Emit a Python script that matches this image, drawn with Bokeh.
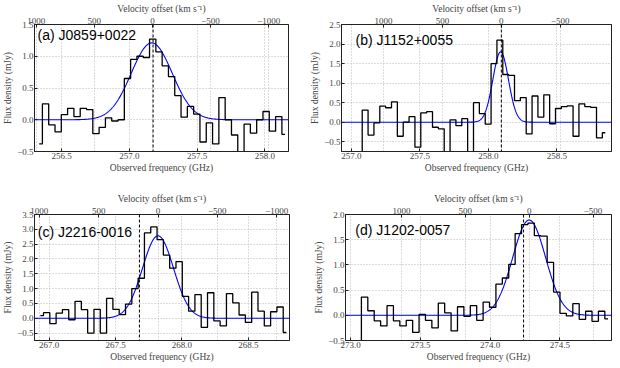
import numpy as np
from bokeh.plotting import figure
from bokeh.models import Range1d, LinearAxis, FixedTicker, Grid, Span, Label
from bokeh.layouts import column, row
from bokeh.embed import file_html
from bokeh.resources import INLINE

C_KMS = 299792.458

# ---------------- data ----------------
panel_labels = ["(a) J0859+0022", "(b) J1152+0055", "(c) J2216-0016", "(d) J1202-0057"]

a_flux = [-0.38, 0.25, -0.08, -0.19, 0.08, 0.18, 0.05, 0.18, 0.16, -0.22, -0.12, 0.03, -0.02,
          0.00, 0.65, 0.95, 1.00, 0.98, 1.27, 1.07, 0.85, 0.68, 0.38, 0.04, 0.21, 0.09, -0.35,
          -0.05, -0.38, 0.35, 0.00, -0.24, -0.60, -0.07, -0.21, 0.00, 0.13, -0.18, 0.05, -0.23]
b_flux = [-0.90, 0.31, -0.33, -0.02, 0.41, 0.37, 0.52, -0.36, 0.00, 0.14, -0.64, 0.24, 0.27,
          -0.13, -0.17, -0.90, 0.06, -0.09, 0.09, -0.90, 0.50, 0.22, -0.05, 1.50, 2.10, 1.22,
          1.20, 0.55, 0.63, -0.30, 0.67, 0.13, 0.70, -0.04, 0.35, 0.40, 0.42, -0.36, 0.47,
          0.40, 0.38, -0.40, -0.27]
c_flux = [0.09, 0.19, -0.18, 0.17, 0.29, -0.05, 0.57, 0.29, -0.50, 0.30, -0.50, 0.67, 0.30,
          0.12, 0.48, 1.00, 1.35, 2.88, 3.08, 2.65, 2.13, 1.69, 1.91, 0.74, 0.24, 0.80, -0.31,
          0.86, -0.09, -0.26, 0.83, 0.52, 0.11, -0.14, 0.88, 0.24, -0.26, 0.22, 0.38, -0.48]
d_flux = [-0.60, 0.36, 0.09, -0.11, -0.21, 0.19, -0.11, -0.21, -0.10, -0.34, 0.02, -0.10,
          -0.25, 0.24, 0.05, -0.31, 0.17, -0.02, 0.19, -0.10, 0.26, 0.16, 0.62, 0.74, 1.01,
          1.62, 1.80, 1.83, 1.58, 1.57, 1.05, 0.46, 0.04, -0.01, 0.23, -0.08, 0.08, -0.12,
          0.08, -0.07]
fluxes = [a_flux, b_flux, c_flux, d_flux]

chan_start = [256.335, 257.057, 266.934, 273.055]   # GHz, centre of first channel
chan_width = [0.0465, 0.0428, 0.0475, 0.0459]       # GHz

fit_amp = [1.21, 1.80, 2.78, 1.89]                  # mJy
fit_center = [257.165, 258.090, 267.820, 274.280]   # GHz
fit_sigma = [0.151, 0.057, 0.117, 0.118]            # GHz

vel_zero = [257.170, 258.095, 267.820, 274.280]     # GHz, zero of the velocity axis
expected_freq = [257.175, 258.095, 267.680, 274.240]  # GHz, dashed line

x_lims = [(256.300, 258.174), (256.927, 258.900), (266.890, 268.810), (272.964, 274.870)]
y_lims = [(-0.5, 1.5), (-0.75, 2.5), (-0.75, 3.5), (-0.5, 2.0)]

freq_ticks = [[256.5, 257.0, 257.5, 258.0], [257.0, 257.5, 258.0, 258.5],
              [267.0, 267.5, 268.0, 268.5], [273.0, 273.5, 274.0, 274.5]]
flux_ticks = [[-0.5, 0.0, 0.5, 1.0, 1.5],
              [-0.5, 0.0, 0.5, 1.0, 1.5, 2.0, 2.5],
              [-0.5, 0.0, 0.5, 1.0, 1.5, 2.0, 2.5, 3.0, 3.5],
              [-0.5, 0.0, 0.5, 1.0, 1.5, 2.0]]
vel_ticks = [[1000, 500, 0, -500, -1000], [1000, 500, 0, -500],
             [1000, 500, 0, -500, -1000], [1000, 500, 0, -500]]

# ---------------- layout / style ----------------
fig_w = [306, 306, 306, 306]
fig_h = [181, 181, 183, 183]
borders = [(30, 18, 24, 30), (35, 1, 24, 30), (30, 17, 33, 21), (39, 1, 33, 21)]
label_frac = [(0.012, 0.022), (0.052, 0.060), (0.013, 0.078), (0.037, 0.062)]

SERIF = "Liberation Serif"
FRAME = "#222222"
GRID = "#b8b8b8"


def fmt(v, nd=1):
    return f"{v:.{nd}f}".replace("-", "\u2212")


def style_axis(ax):
    ax.axis_label_text_font = SERIF
    ax.axis_label_text_font_size = "9.5px"
    ax.axis_label_text_font_style = "normal"
    ax.major_label_text_font = SERIF
    ax.major_label_text_font_size = "9px"
    ax.axis_label_standoff = 1
    ax.major_label_standoff = 1
    ax.major_tick_in = 3
    ax.major_tick_out = 0
    ax.minor_tick_line_color = None
    ax.axis_line_color = FRAME
    ax.major_tick_line_color = FRAME


def make_panel(i):
    x0, x1 = x_lims[i]
    y0, y1 = y_lims[i]
    bl, br, bt, bb = borders[i]
    p = figure(width=fig_w[i], height=fig_h[i],
               x_range=Range1d(x0, x1), y_range=Range1d(y0, y1),
               output_backend="svg", toolbar_location=None,
               min_border_left=bl, min_border_right=br,
               min_border_top=bt, min_border_bottom=bb)
    p.outline_line_color = FRAME
    p.outline_line_width = 1
    p.background_fill_color = "white"
    p.border_fill_color = "white"

    # bottom axis: frequency
    xa = p.xaxis[0]
    xa.ticker = FixedTicker(ticks=freq_ticks[i])
    xa.major_label_overrides = {t: fmt(t) for t in freq_ticks[i]}
    xa.axis_label = "Observed frequency (GHz)"
    style_axis(xa)

    # left axis: flux density
    ya = p.yaxis[0]
    ya.ticker = FixedTicker(ticks=flux_ticks[i])
    ya.major_label_overrides = {t: fmt(t) for t in flux_ticks[i]}
    ya.axis_label = "Flux density (mJy)"
    style_axis(ya)

    # top axis: velocity offset
    f0 = vel_zero[i]
    v_left = C_KMS * (f0 - x0) / f0
    v_right = C_KMS * (f0 - x1) / f0
    p.extra_x_ranges = {"vel": Range1d(start=v_left, end=v_right)}
    ta = LinearAxis(x_range_name="vel", ticker=FixedTicker(ticks=vel_ticks[i]),
                    axis_label="Velocity offset (km s\u207b\u00b9)")
    ta.major_label_overrides = {v: str(v).replace("-", "\u2212") for v in vel_ticks[i]}
    style_axis(ta)
    p.add_layout(ta, "above")

    # grids (dotted)
    for g in (p.xgrid[0], p.ygrid[0]):
        g.grid_line_color = GRID
        g.grid_line_dash = "1 2"
        g.grid_line_width = 1
    p.xgrid[0].ticker = FixedTicker(ticks=freq_ticks[i])
    p.ygrid[0].ticker = FixedTicker(ticks=flux_ticks[i])
    vfreqs = [f0 * (1.0 - v / C_KMS) for v in vel_ticks[i]]
    p.add_layout(Grid(dimension=0, ticker=FixedTicker(ticks=vfreqs),
                      grid_line_color=GRID, grid_line_dash="1 2", grid_line_width=1))

    # Gaussian fit (blue)
    xs = np.linspace(x0, x1, 600)
    ys = fit_amp[i] * np.exp(-0.5 * ((xs - fit_center[i]) / fit_sigma[i]) ** 2)
    p.line(xs, ys, line_color="#0000ff", line_width=1.1)

    # spectrum (histogram-like steps)
    flux = fluxes[i]
    freqs = [chan_start[i] + k * chan_width[i] for k in range(len(flux))]
    p.step(freqs, flux, mode="center", line_color="black", line_width=1.3)

    # expected line frequency (dashed)
    p.add_layout(Span(location=expected_freq[i], dimension="height",
                      line_color="black", line_dash="3 2", line_width=1))

    fx, fy = label_frac[i]
    p.add_layout(Label(x=x0 + fx * (x1 - x0), y=y1 - fy * (y1 - y0),
                       text=panel_labels[i], text_font="Liberation Sans",
                       text_font_size="14px", text_baseline="top", text_align="left",
                       text_color="black"))
    return p


panels = [make_panel(i) for i in range(4)]
layout = column(row(panels[0], panels[1]), row(panels[2], panels[3]))

open("out.html", "w").write(file_html(layout, INLINE))
